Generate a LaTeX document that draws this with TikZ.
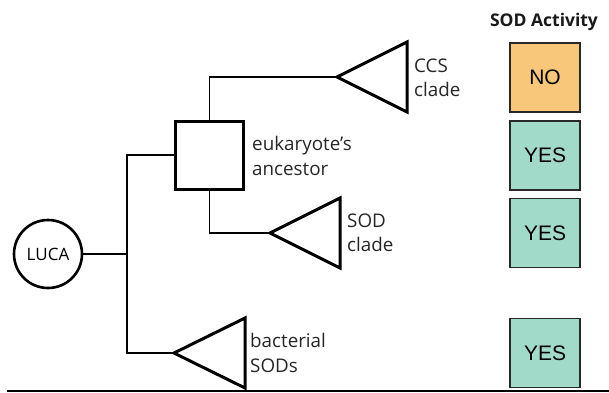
\documentclass[tikz,border=0pt]{standalone}
\usepackage{fontspec}
\setmainfont{Open Sans}
\newfontfamily\arialf{Liberation Sans}
\definecolor{noorange}{RGB}{249,199,122}
\definecolor{yesteal}{RGB}{162,218,202}
\definecolor{boxedge}{RGB}{40,40,40}
\begin{document}
\begin{tikzpicture}[x=1pt,y=-1pt,
  branch/.style={line width=1.6pt,black},
  bold/.style={line width=3pt,black,line join=miter},
  lbl/.style={anchor=west,align=left,font=\fontsize{18.8}{24.5}\selectfont,text=black!85,inner sep=0pt},
  actbox/.style={draw=boxedge,line width=1.3pt,minimum width=70pt,minimum height=69pt,inner sep=0pt,font=\arialf\fontsize{21}{24}\selectfont},
]
\useasboundingbox (0,0) rectangle (609,392);
% nodes
\node[draw,circle,line width=2.6pt,minimum size=68pt,inner sep=0pt,font=\fontsize{17}{20}\selectfont] (luca) at (48,254) {LUCA};
\node[draw,bold,minimum size=68pt,inner sep=0pt] (sq) at (209.5,155) {};
\coordinate (ccs) at (337,77);
\coordinate (sod) at (270,233);
\coordinate (bact) at (174,353);
\coordinate (top) at (127,155);
\coordinate (bot) at (127,353);
% triangles
\draw[bold] (ccs) -- ++(70,-35) -- ++(0,70) -- cycle;
\draw[bold] (sod) -- ++(70,-35) -- ++(0,70) -- cycle;
\draw[bold] (bact) -- ++(71,-35) -- ++(0,70) -- cycle;
% branches
\draw[branch] (luca.east) -- (luca.east -| top);
\draw[branch] (sq.west) -- (top) -- (bot) -- (bact);
\draw[branch] (sq.north) |- (ccs);
\draw[branch] (sq.south) |- (sod);
% labels
\node[lbl] (lccs) at (414,78) {CCS\\clade};
\node[lbl] (leuk) at (252,156) {eukaryote\symbol{39}s\\ancestor};
\node[lbl] (lsod) at (347,233) {SOD\\clade};
\node[lbl] (lbact) at (250,353) {bacterial\\SODs};
% activity column
\node[font=\bfseries\fontsize{17.5}{22}\selectfont,text=black!90] (head) at (544,22) {SOD Activity};
\node[actbox,fill=noorange] (b1) at (545,77.5) {NO};
\node[actbox,fill=yesteal] (b2) at (545,155.5) {YES};
\node[actbox,fill=yesteal] (b3) at (545,233) {YES};
\node[actbox,fill=yesteal] (b4) at (545,353) {YES};
% baseline rule
\coordinate (rl) at (7,391);
\coordinate (rr) at (609,391);
\draw[line width=1.5pt] (rl) -- (rr);
\end{tikzpicture}
\end{document}
